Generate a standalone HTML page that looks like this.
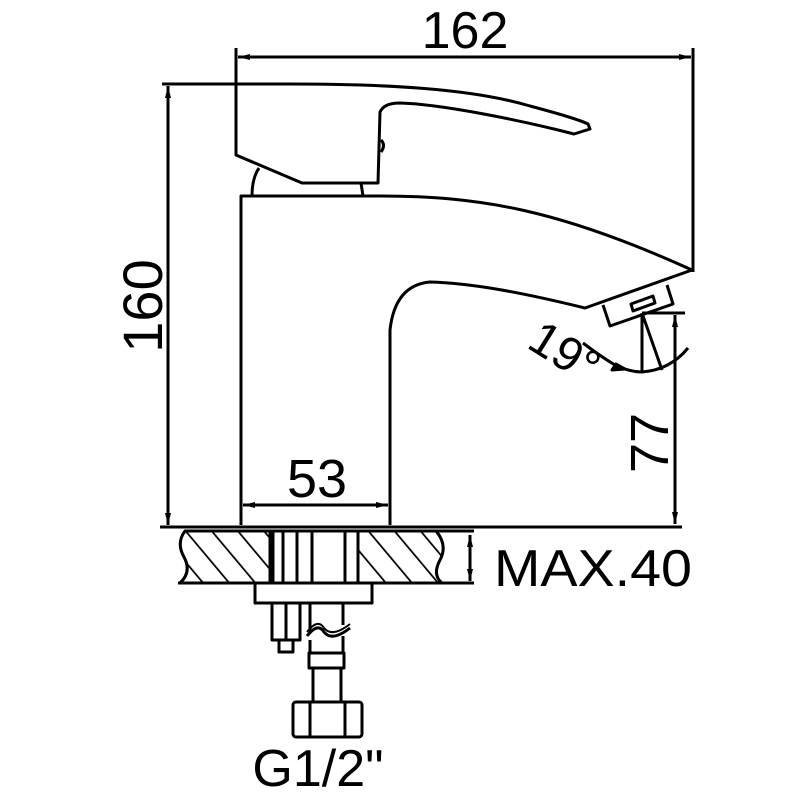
<!DOCTYPE html>
<html><head><style>html,body{margin:0;padding:0;background:#fff}svg{display:block}</style></head>
<body>
<svg width="800" height="800" viewBox="0 0 800 800" xmlns="http://www.w3.org/2000/svg">
<defs>
<marker id="a" markerWidth="12" markerHeight="8" refX="12" refY="4" orient="auto-start-reverse" markerUnits="userSpaceOnUse"><path d="M0,1 L12,4 L0,7 Z" fill="#000"/></marker>
<pattern id="h" patternUnits="userSpaceOnUse" width="20" height="20" patternTransform="rotate(-40)"><line x1="0" y1="0" x2="0" y2="20" stroke="#000" stroke-width="3.5"/></pattern>
</defs>
<g fill="none" stroke="#000" stroke-width="3" stroke-linejoin="round">
<line x1="236" y1="48" x2="236" y2="155"/>
<line x1="693" y1="48" x2="693" y2="272"/>
<line x1="238" y1="57" x2="691" y2="57" marker-start="url(#a)" marker-end="url(#a)"/>
<line x1="162" y1="84" x2="236" y2="84"/>
<line x1="168" y1="86" x2="168" y2="525" marker-start="url(#a)" marker-end="url(#a)"/>
<path d="M236,84 L290,84 C380,84 470,88 530,106 C560,114 580,120 588,124 L590,129 L574,134 C520,120 440,104 400,103 Q384,103 380,112 L378,183 L302,183 L236,155 L236,84"/>
<path d="M381,140 Q386,145 381,152"/>
<path d="M252,196 Q252,178 259,168"/>
<path d="M361,183 L363,196"/>
<path d="M241,525 L241,196 L380,196 C480,196 560,210 692,270 L585,308 C520,292 470,283 430,282 Q395,285 390,330 L390,525"/>
<path d="M603,305 L610,326 L673,304 L667,285"/>
<path d="M631,304 L633,311 L655,303 L653,296 Z"/>
<line x1="642" y1="313" x2="685" y2="313"/>
<line x1="642" y1="313" x2="642" y2="372"/>
<line x1="642" y1="313" x2="662" y2="370"/>
<path d="M583,343 Q600,356 615,365 Q630,372 642,372 Q670,370 688,348"/>
<path d="M625,369 L616,364 L612,370 Z" fill="#000"/>
<line x1="675" y1="315" x2="675" y2="524" marker-start="url(#a)" marker-end="url(#a)"/>
<line x1="243" y1="505" x2="388" y2="505" marker-start="url(#a)" marker-end="url(#a)"/>
<line x1="160" y1="527" x2="682" y2="527"/>
<path d="M185,531 L270,531 L270,583 L180,583 Q192,572 184,557 Q176,543 185,531 Z" fill="url(#h)"/>
<path d="M358,531 L436,531 Q448,545 440,560 Q432,575 442,583 L358,583 Z" fill="url(#h)"/>
<line x1="178" y1="583" x2="474" y2="583"/>
<line x1="436" y1="531" x2="474" y2="531"/>
<line x1="270" y1="531" x2="358" y2="531"/>
<line x1="273" y1="531" x2="273" y2="583"/><line x1="283" y1="531" x2="283" y2="583"/>
<line x1="297" y1="531" x2="297" y2="583"/><line x1="312" y1="531" x2="312" y2="583"/>
<line x1="345" y1="531" x2="345" y2="583"/><line x1="358" y1="531" x2="358" y2="583"/>
<line x1="470" y1="535" x2="470" y2="581" marker-start="url(#a)" marker-end="url(#a)"/>
<rect x="255" y="583" width="117" height="20"/>
<path d="M272,603 L272,640 L300,640 L300,603"/>
<path d="M279,640 L279,652 L293,652 L293,640"/>
<line x1="286" y1="603" x2="286" y2="640"/>
<line x1="310" y1="603" x2="310" y2="632"/><line x1="343" y1="603" x2="343" y2="625"/>
<path d="M307,636 Q318,622 324,632 Q332,642 350,628"/>
<path d="M307,632 Q318,618 324,628 Q332,638 350,624" stroke-width="2"/>
<line x1="310" y1="640" x2="310" y2="653"/><line x1="343" y1="636" x2="343" y2="653"/>
<rect x="309" y="653" width="35" height="15"/>
<line x1="313" y1="668" x2="313" y2="702"/><line x1="341" y1="668" x2="341" y2="702"/>
<rect x="293" y="702" width="69" height="35" rx="3"/>
<line x1="310" y1="702" x2="310" y2="737"/><line x1="345" y1="702" x2="345" y2="737"/>
</g>
<g font-family="Liberation Sans, sans-serif" fill="#000">
<text x="465" y="48" font-size="52" text-anchor="middle">162</text>
<text transform="translate(162,306) rotate(-90)" font-size="56" text-anchor="middle">160</text>
<text x="317" y="497" font-size="54" text-anchor="middle">53</text>
<text transform="translate(668,443) rotate(-90)" font-size="54" text-anchor="middle">77</text>
<text x="494" y="586" font-size="52" textLength="198" lengthAdjust="spacingAndGlyphs">MAX.40</text>
<text x="318" y="786" font-size="52" text-anchor="middle">G1/2"</text>
<text transform="translate(556,366) rotate(32)" font-size="48" text-anchor="middle">19°</text>
</g>
</svg>
</body></html>
